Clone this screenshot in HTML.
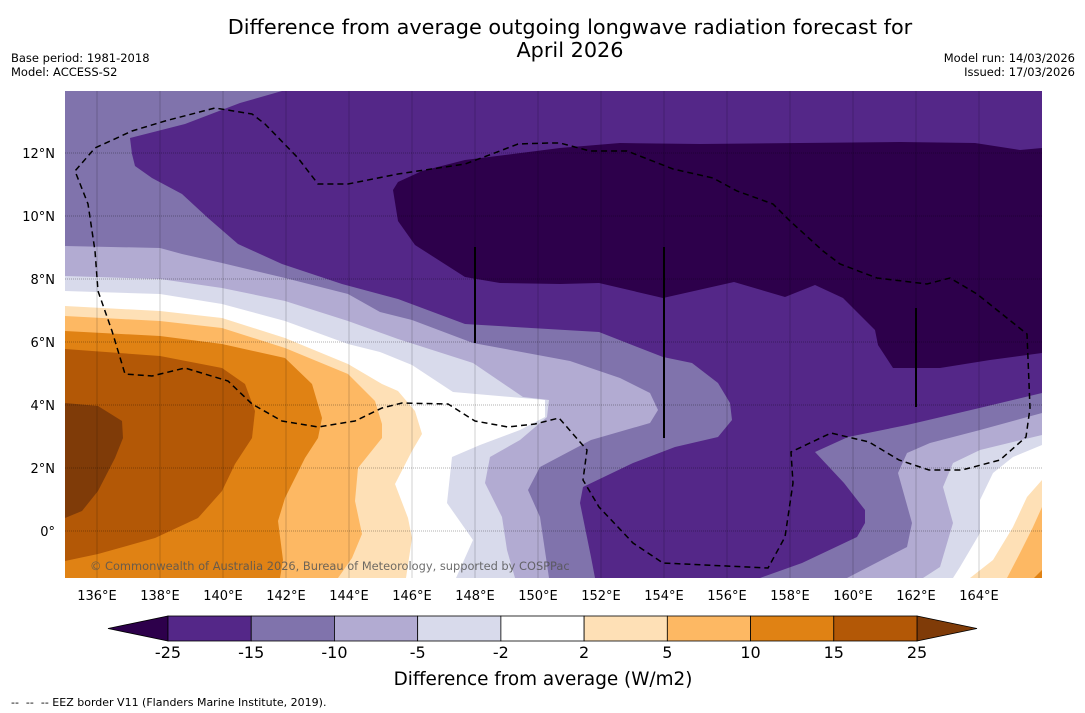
<!DOCTYPE html>
<html><head><meta charset="utf-8">
<style>
body{margin:0;background:#fff;}
svg{display:block;font-family:"DejaVu Sans","Liberation Sans",sans-serif;}
</style></head>
<body>
<svg id="chart" width="1085" height="713" viewBox="0 0 1085 713" xmlns="http://www.w3.org/2000/svg">
<rect x="0" y="0" width="1085" height="713" fill="#fff"/>
<text x="570" y="34" font-size="20.8" text-anchor="middle">Difference from average outgoing longwave radiation forecast for</text>
<text x="570" y="57" font-size="20.8" text-anchor="middle">April 2026</text>
<text x="11" y="62" font-size="11.5">Base period: 1981-2018</text>
<text x="11" y="76" font-size="11.5">Model: ACCESS-S2</text>
<text x="1075" y="62" font-size="11.5" text-anchor="end">Model run: 14/03/2026</text>
<text x="1075" y="76" font-size="11.5" text-anchor="end">Issued: 17/03/2026</text>

<defs><clipPath id="mapclip"><rect x="65" y="91" width="977" height="487"/></clipPath></defs>
<g clip-path="url(#mapclip)">
<rect x="65" y="91" width="977" height="487" fill="#d8daeb"/>
<polygon fill="#ffffff" points="65,291 160,294 222,304 285,321 348,344 380,352 412,365 453,392 545,400 545,417 520,430 480,445 452,457 447,503 473,540 456,578 65,578"/>
<polygon fill="#fee0b6" points="65,306 160,311 222,318 285,338 348,364 382,384 398,391 415,411 422,434 412,451 395,484 408,518 412,538 406,578 65,578"/>
<polygon fill="#fdb863" points="65,316 160,321 222,328 285,348 348,374 375,401 382,424 382,438 358,468 355,501 362,534 352,558 338,578 65,578"/>
<polygon fill="#e08214" points="65,331 160,336 222,344 285,358 312,384 322,418 318,438 305,458 285,498 278,521 283,560 280,578 65,578"/>
<polygon fill="#b35806" points="65,349 160,356 222,368 245,384 255,411 252,438 235,464 222,491 198,518 155,538 98,554 65,561"/>
<polygon fill="#7f3b08" points="65,403 98,406 122,421 123,438 115,458 98,491 82,511 65,518"/>
<polygon fill="#ffffff" points="1042,445 1013,457 993,473 980,500 980,533 960,567 953,578 1042,578"/>
<polygon fill="#fee0b6" points="1042,480 1027,497 1013,527 993,560 970,578 1042,578"/>
<polygon fill="#fdb863" points="1042,507 1033,527 1020,553 1007,578 1042,578"/>
<polygon fill="#e08214" points="1034,578 1042,570 1042,578"/>
<polygon fill="#b2abd2" points="65,91 1042,91 1042,435 980,450 953,463 943,487 953,523 940,567 923,578 515,578 507,550 502,517 485,483 490,457 520,440 547,417 549,400 523,397 473,363 398,339 348,321 285,301 222,288 160,279 65,276"/>
<polygon fill="#8073ac" points="65,91 1042,91 1042,413 980,430 930,443 907,453 898,473 912,523 907,547 847,578 549,578 540,517 528,490 540,467 591,440 650,423 658,410 650,393 620,378 570,361 473,343 412,320 380,312 348,294 285,278 222,263 182,254 160,248 65,246"/>
<polygon fill="#542788" points="282,91 1042,91 1042,393 971,410 907,425 848,437 815,452 844,483 865,510 865,523 857,537 802,563 760,578 595,578 591,557 580,503 583,487 633,463 675,447 718,437 732,420 730,403 718,383 692,363 663,357 599,332 565,330 465,324 398,299 342,284 282,264 238,244 208,218 182,194 152,178 135,166 132,154 130,138 185,124 240,103"/>
<polygon fill="#2d004b" points="393,190 398,182 422,171 465,160 560,148 620,143 700,144 800,143 900,142 975,143 1020,150 1042,148 1042,353 990,360 940,368 893,368 878,345 875,330 843,298 815,285 785,297 734,282 663,298 599,283 560,284 500,283 465,277 415,245 398,221"/>
<g id="grid"></g>
<polyline fill="none" stroke="#000" stroke-width="1.5" stroke-dasharray="6,4" points="548,143 518,144 492,154 465,164 398,174 348,184 318,184 298,158 265,124 252,114 215,108 165,121 132,131 95,148 75,171 88,204 95,251 98,291 112,331 125,374 152,376 185,368 228,381 252,404 282,421 318,427 355,421 382,408 402,403 448,404 475,421 508,427 535,424 559,418 587,450 583,480 599,507 633,543 663,563 768,568 785,537 793,483 791,452 831,433 869,442 899,460 929,470 962,470 1000,460 1026,437 1030,408 1027,334 977,294 950,278 927,284 877,278 840,264 823,251 790,221 773,204 737,191 713,178 673,169 627,151 590,151 560,143 548,143"/>
<line x1="475" y1="247" x2="475" y2="343" stroke="#000" stroke-width="2"/>
<line x1="664" y1="247" x2="664" y2="438" stroke="#000" stroke-width="2"/>
<line x1="916" y1="308" x2="916" y2="407" stroke="#000" stroke-width="2"/>
<text x="90" y="570" font-size="11.4" fill="#555" fill-opacity="0.85">© Commonwealth of Australia 2026, Bureau of Meteorology, supported by COSPPac</text>
</g>
<g id="axes"></g>
<g id="colorbar"></g>
<text x="543" y="685" font-size="18.4" text-anchor="middle">Difference from average (W/m2)</text>
<text x="11" y="706" font-size="11" style="white-space:pre" xml:space="preserve">--  --  -- EEZ border V11 (Flanders Marine Institute, 2019).</text>
</svg>
<script>
const lonTicks = [136,138,140,142,144,146,148,150,152,154,156,158,160,162,164];
const latTicks = [0,2,4,6,8,10,12];
const latLabels = ["0°","2°N","4°N","6°N","8°N","10°N","12°N"];
const levels = [-25,-15,-10,-5,-2,2,5,10,15,25];
const levelColors = ["#542788","#8073ac","#b2abd2","#d8daeb","#ffffff","#fee0b6","#fdb863","#e08214","#b35806"];
const underColor = "#2d004b";
const overColor = "#7f3b08";

const NS = "http://www.w3.org/2000/svg";
function xOf(lon){ return 97 + (lon-136)*31.5; }
function yOf(lat){ return 531 - lat*31.5; }
function mk(tag, attrs, parent){ const e=document.createElementNS(NS,tag); for(const k in attrs) e.setAttribute(k,attrs[k]); parent.appendChild(e); return e; }

const grid = document.getElementById('grid');
const axes = document.getElementById('axes');
lonTicks.forEach(function(lon){
  const l = mk('line',{x1:xOf(lon),x2:xOf(lon),y1:91,y2:578,stroke:'#000','stroke-opacity':0.18,'stroke-width':1},grid);
  
  
  const t = mk('text',{x:xOf(lon),y:600,'font-size':13,'text-anchor':'middle'},axes);
  t.textContent = lon + '°E';
  
  
});
latTicks.forEach(function(lat,i){
  const l = mk('line',{x1:65,x2:1042,y1:yOf(lat),y2:yOf(lat),stroke:'#000','stroke-opacity':0.3,'stroke-width':1,'stroke-dasharray':'1,1'},grid);
  
  
  const t = mk('text',{x:55,y:yOf(lat)+5,'font-size':13,'text-anchor':'end'},axes);
  t.textContent = latLabels[i];
  
  
});

const cb = document.getElementById('colorbar');
const cbX0 = 168, cbX1 = 917, cbY = 616, cbH = 25;
const segW = (cbX1-cbX0)/(levels.length-1);
function cbX(i){ return cbX0 + i*segW; }
const under = mk('polygon',{points:`108,${cbY+cbH/2} ${cbX0},${cbY} ${cbX0},${cbY+cbH}`,fill:underColor,stroke:'#000','stroke-width':0.8},cb);


const over = mk('polygon',{points:`977,${cbY+cbH/2} ${cbX1},${cbY} ${cbX1},${cbY+cbH}`,fill:overColor,stroke:'#000','stroke-width':0.8},cb);


levelColors.forEach(function(c,i){
  const r = mk('rect',{x:cbX(i),y:cbY,width:segW,height:cbH,fill:c,stroke:'#000','stroke-width':0.8},cb);
  
  
});
levels.forEach(function(v,i){
  const t = mk('text',{x:cbX(i),y:658,'font-size':16,'text-anchor':'middle'},cb);
  t.textContent = v;
  
  
});
</script>
</body></html>
